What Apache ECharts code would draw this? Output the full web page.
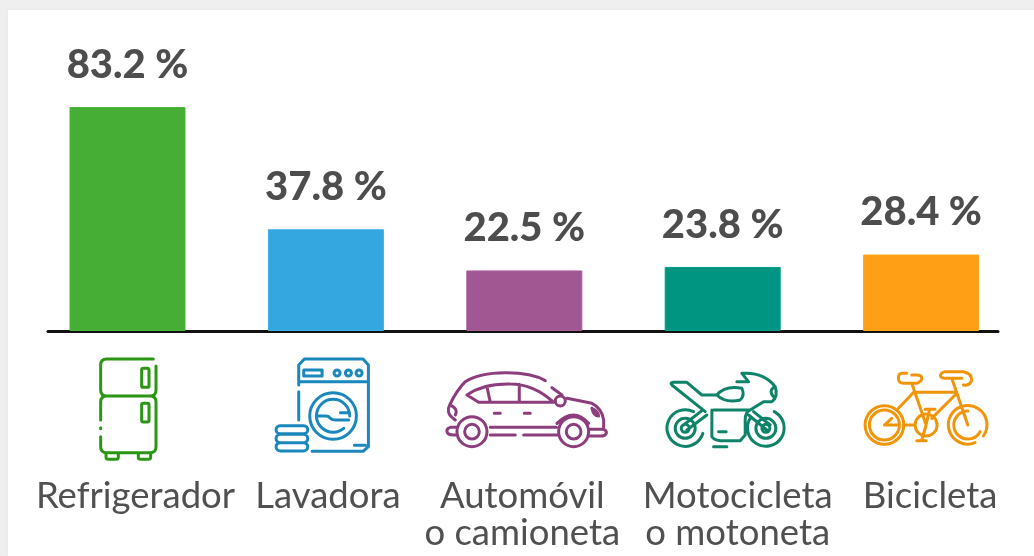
<!DOCTYPE html>
<html><head><meta charset="utf-8">
<style>
html,body{margin:0;padding:0;width:1034px;height:556px;overflow:hidden;background:#efefef}
#card{position:absolute;left:8px;top:10px;right:0;bottom:0;background:#fff;box-shadow:0 0 3px #e4e4e4}
#c{position:absolute;left:0;top:0;width:1034px;height:556px}
</style>
<script src="https://cdn.jsdelivr.net/npm/echarts@6/dist/echarts.min.js"></script>
</head><body><div id="card"></div><div id="c"></div>
<script>
const categories = ['Refrigerador','Lavadora','Automóvil\no camioneta','Motocicleta\no motoneta','Bicicleta'];
const values = [83.2,37.8,22.5,23.8,28.4];
const barColors = ['#46ad35','#35a7e0','#a05792','#009581','#ff9f15'];
const iconColors = ['#2a9614','#1a87bd','#8c3e7c','#0f826a','#f0950a'];
const labelShifts = [8,2,-2,15,9];
// icon drawings, in a 3x drawing space; origin is the crop offset from each bar centre
const iconOrigin = [-127.5,-325.5,-104,-302.5,-101];
const c=(x,y,r)=>`M${x-r} ${y}A${r} ${r} 0 1 1 ${x+r} ${y}A${r} ${r} 0 1 1 ${x-r} ${y}Z`;
const pill=(x0,y0,x1,y1)=>{const r=(y1-y0)/2;return `M${x0+r} ${y0}H${x1-r}A${r} ${r} 0 0 1 ${x1-r} ${y1}H${x0+r}A${r} ${r} 0 0 1 ${x0+r} ${y0}Z`;};
const icons = [
 // fridge
 'M460 57H320Q302 57 302 75V150Q302 168 320 168H450Q468 168 468 150V78'+
 'M302 240V186Q302 168 320 168H450Q468 168 468 186V320Q468 338 450 338H320Q302 338 302 320V290M302 263V266'+
 'M425 90Q425 85 430 85H442Q447 85 447 90V137Q447 142 442 142H430Q425 142 425 137Z'+
 'M425 195Q425 190 430 190H442Q447 190 447 195V241Q447 246 442 246H430Q425 246 425 241Z'+
 'M318 340V352Q318 358 325 358H348Q355 358 355 352V340M415 340V352Q415 358 422 358H445Q452 358 452 352V340',
 // washer
 'M895 135V75L912 57H1088L1104 75V320L1088 334H935M1062 316H1095M895 125H1104M895 155V240'+
 'M910 90H965V108H910Z'+c(1010,99,9)+c(1044,99,9)+c(1076,99,9)+c(998,228,70)+
 'M1048 228A50 50 0 0 0 948 228A50 50 0 0 0 1030 265M950 228H978Q985 228 990 235Q995 240 1005 240H1045M1020 218H1045'+
 pill(827,257,922,281)+pill(827,283,922,308)+pill(827,308,922,333),
 // car
 'M375 122C320 90 190 90 135 125C115 145 100 170 88 195C80 210 85 225 95 232L105 240M88 195Q115 205 105 225'+
 'M140 165Q190 130 270 132Q340 132 400 187H175ZM200 140L210 187M297 133V187'+
 'M395 143L425 165M440 175L515 190Q545 205 550 240V262'+c(420,183,15)+
 'M222 220H240M312 220H330M515 205Q535 215 535 228Q520 228 515 205'+
 c(155,275,45)+c(155,275,22)+c(460,275,45)+c(460,275,22)+
 'M210 262H408M210 285H285M310 285H410M110 262H90Q78 265 80 275Q82 285 100 285H110'+
 'M505 268H550Q560 272 558 280Q555 288 545 288H505M410 250Q460 200 505 250',
 // motorcycle
 c(795,265,30)+c(795,265,12)+c(1037,265,30)+c(1037,265,12)+
 'M820 215A55 55 0 1 0 848 280M990 235A55 55 0 1 0 1062 215'+
 'M755 135Q748 128 760 127H800L845 165H890M755 135L855 215'+
 'M890 165Q915 135 965 145Q975 165 960 180Q915 190 890 165'+
 'M965 100Q1030 95 1065 140Q1075 170 1055 185H1030L990 210H880M965 100L985 125M950 125H985M1060 142Q1045 155 1060 170'+
 'M875 210V290Q880 300 900 302H960L975 285V240Q975 215 990 210'+
 'M800 270L860 225M790 255L845 212M985 225L1040 270M1000 215L1050 255M880 320H920M895 275H918',
 // bicycle
 c(193,255,58)+'M238 255A45 45 0 1 0 148 255A45 45 0 1 0 238 255'+'M193 255H235M193 255L215 235'+
 'M490 288A58 58 0 1 0 465 308M443 213A42 42 0 1 0 480 275M443 255L430 215'+
 c(318,255,33)+'M280 157H405M275 130L318 255M405 165L335 235M278 160L235 205M395 115L443 255M250 255H285'+
 'M260 100H245Q235 100 235 115Q235 130 250 130H290Q305 125 305 115Q305 105 290 105H275'+
 'M375 95H430Q455 100 455 120Q450 138 430 135M375 95Q358 100 362 110Q365 115 380 115H425'+
 'M318 255L328 210M315 208H345M318 255L305 300M290 302H318'
];
const chart = echarts.init(document.getElementById('c'),null,{renderer:'canvas'});
chart.setOption({
 animation:false,
 backgroundColor:'transparent',
 grid:[
  {left:28.3,width:992,top:8,bottom:225},
  {left:48,width:950,top:8,bottom:225}
 ],
 xAxis:[
  {type:'category',gridIndex:0,
   data:categories.map((v,i)=>({value:v,textStyle:{padding:labelShifts[i]>=0?[0,0,0,labelShifts[i]*2]:[0,-labelShifts[i]*2,0,0]}})),
   axisLine:{show:false},axisTick:{show:false},
   axisLabel:{interval:0,margin:147,fontFamily:'Lato',fontSize:36.5,lineHeight:37,color:'#505050',hideOverlap:false,verticalAlign:'top'}},
  {type:'value',gridIndex:1,min:0,max:1,splitLine:{show:false},axisTick:{show:false},axisLabel:{show:false},
   axisLine:{show:true,onZero:false,lineStyle:{color:'#111',width:3}}}
 ],
 yAxis:[
  {type:'value',gridIndex:0,min:0,max:120,show:false},
  {type:'value',gridIndex:1,min:0,max:120,show:false}
 ],
 series:[
  {type:'bar',xAxisIndex:0,yAxisIndex:0,barWidth:116,
   data:values.map((v,i)=>({value:v,itemStyle:{color:barColors[i],borderColor:echarts.color.lift(barColors[i],-0.06),borderWidth:1}})),
   label:{show:true,position:'top',distance:22,formatter:p=>p.value.toFixed(1)+' %',fontFamily:'Lato',fontWeight:900,fontSize:40,color:'#4d4d4d'}},
  {type:'custom',xAxisIndex:0,yAxisIndex:0,silent:true,clip:false,
   data:values.map((v,i)=>[i,0]),
   renderItem:(params,api)=>{
    const i=api.value(0),p=api.coord([i,0]);
    return {type:'path',
     x:p[0]+iconOrigin[i],y:p[1]+9,scaleX:1/3,scaleY:1/3,
     shape:{pathData:icons[i],layout:'none'},
     style:{fill:'none',stroke:iconColors[i],lineWidth:9,lineCap:'round',lineJoin:'round'}};
   }}
 ]
});
</script></body></html>
